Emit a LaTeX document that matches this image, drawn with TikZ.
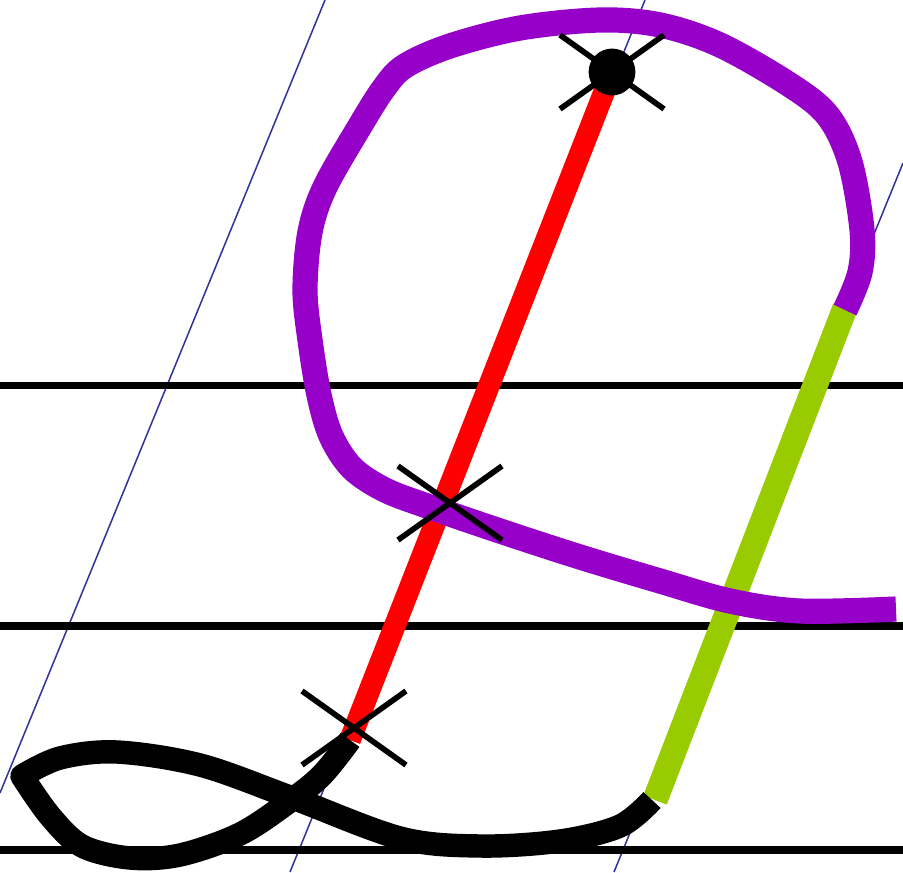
\documentclass[tikz,border=0pt]{standalone}
\definecolor{inkpurple}{RGB}{150,0,200}
\definecolor{inkgreen}{RGB}{153,204,0}
\definecolor{guideblue}{RGB}{51,51,153}
\begin{document}
\begin{tikzpicture}[
            x=0.03cm, y=-0.03cm,
            guide/.style={guideblue, line width=1.3pt},
            ruling/.style={black, line width=6.6pt},
            stem/.style={red, line width=18.5pt},
            rise/.style={inkgreen, line width=21.5pt},
            bowl/.style={inkpurple, line width=21.5pt, line join=round},
            tail/.style={black, line width=20pt, line join=round},
            crossmark/.style={black, line width=4.8pt},
            apexdot/.style={circle, fill=black, minimum size=40pt, inner sep=0pt}
        ]
            \useasboundingbox (0,0) rectangle (903,872);

            % slant guides
            \foreach \xa/\ya/\xb/\yb in {325/0/0/793, 645/0/290/872, 903/163/614/872} {
                \draw[guide] (\xa,\ya) -- (\xb,\yb);
            }

            % ruled lines
            \foreach \y in {385.5,626,850} {
                \draw[ruling] (0,\y) -- (903,\y);
            }

            \coordinate (xtop) at (612,72);
            \coordinate (xmid) at (450,503);
            \coordinate (xlow) at (354,728);
            \coordinate (stemend) at (350,740);
            \coordinate (risetop) at (845,308);
            \coordinate (risefoot) at (655,800);

            \draw[stem] (xtop) -- (stemend);
            \draw[rise] (risetop) -- (risefoot);

            \draw[bowl] plot[smooth, tension=0.55] coordinates {
                (896,609) (800,611) (730,601) (660,581) (580,557) (500,531)
                (430,507) (385,490) (352,468) (331,436) (319,395) (310,340)
                (305,290) (310,232) (325,187) (360,126) (384,88) (405,66)
                (450,46) (520,28) (600,20) (660,25) (720,45) (790,85)
                (828,116) (850,162) (862,230) (860,272) (845,310)};

            \draw[tail] plot[smooth, tension=0.55] coordinates {
                (350,740) (322,775) (290,801) (240,834) (180,855) (130,858)
                (82,846) (50,816) (22,776)}
                -- plot[smooth, tension=0.55] coordinates {
                (22,776) (60,758) (117,752) (200,765) (290,797) (400,838)
                (480,846) (560,841) (620,826) (652,800)};

            \foreach \c in {xtop,xmid,xlow} {
                \draw[crossmark] (\c) ++(-52,-37) -- ++(104,74)
                                 (\c) ++(-52,37) -- ++(104,-74);
            }
            \node[apexdot] (apex) at (xtop) {};

        \end{tikzpicture}
\end{document}
